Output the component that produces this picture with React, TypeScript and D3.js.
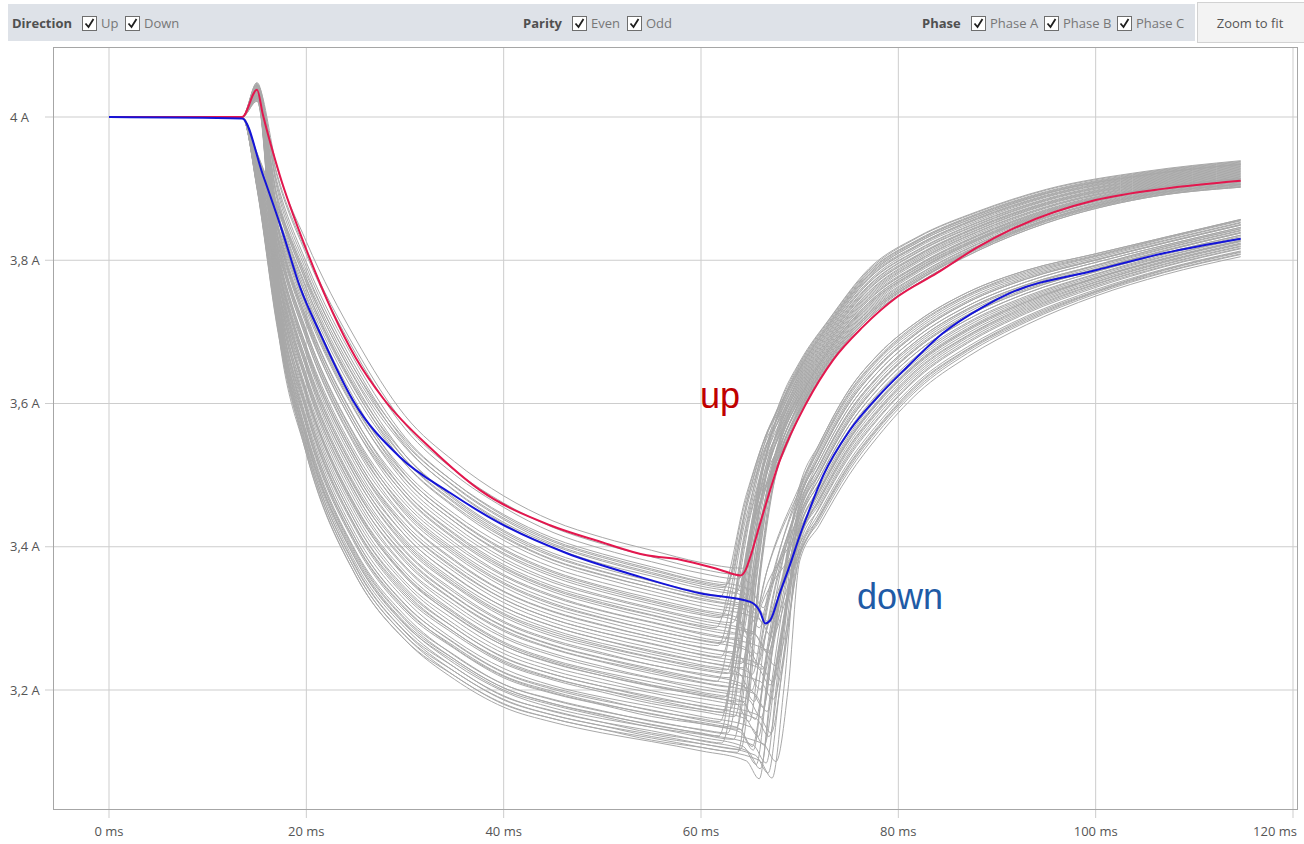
import React from 'react';
import * as d3 from 'd3';

// ---------- axis ticks ----------
const X_TICKS = [0, 20, 40, 60, 80, 100, 120];
const Y_TICKS = [3.2, 3.4, 3.6, 3.8, 4];

// ---------- highlighted traces ----------
const RED_MS = [0, 13.5, 15, 15.6, 17.3, 20, 25, 27.8, 32.8, 37.6, 44.7, 49.8, 54.5, 57.9, 61.9, 64, 64.5, 65, 66, 68, 70.7, 73.4, 76.4, 79.9, 83.9, 88, 91.3, 100, 107, 114.7];
const RED_A = [4.0, 4.0, 4.038, 4.003, 3.919, 3.815, 3.664, 3.607, 3.535, 3.479, 3.43, 3.407, 3.388, 3.382, 3.368, 3.36, 3.367, 3.386, 3.433, 3.521, 3.601, 3.661, 3.707, 3.749, 3.782, 3.818, 3.842, 3.884, 3.9, 3.911];
const BLUE_MS = [0, 13.5, 15.6, 17.6, 19.4, 21.4, 24.7, 29.5, 34.6, 39.6, 46.4, 53.1, 59.9, 65, 66, 66.5, 67, 68, 69, 70, 71, 72.4, 75.1, 77.9, 80.9, 84.5, 88.6, 91.3, 100, 107, 114.7];
const BLUE_A = [4.0, 3.998, 3.919, 3.839, 3.761, 3.698, 3.605, 3.525, 3.475, 3.433, 3.391, 3.361, 3.335, 3.323, 3.309, 3.293, 3.297, 3.336, 3.374, 3.415, 3.452, 3.5, 3.563, 3.609, 3.651, 3.698, 3.735, 3.754, 3.786, 3.81, 3.83];

// ---------- gray traces ----------
const BASE_MS = [0, 13.5];
const BASE_A = [4.0, 4.0];
const DECAY_MS = [15, 17, 20, 25, 30, 35, 40, 45, 50, 55, 60];

const UP_DECAY = [
  [4.045, 3.931, 3.826, 3.690, 3.583, 3.519, 3.471, 3.436, 3.413, 3.395, 3.378],
  [4.040, 3.919, 3.808, 3.670, 3.565, 3.501, 3.455, 3.420, 3.397, 3.379, 3.363],
  [4.035, 3.911, 3.797, 3.658, 3.553, 3.490, 3.443, 3.409, 3.387, 3.369, 3.352],
  [4.048, 3.902, 3.785, 3.645, 3.541, 3.478, 3.432, 3.399, 3.376, 3.359, 3.342],
  [4.030, 3.894, 3.774, 3.632, 3.528, 3.466, 3.421, 3.388, 3.366, 3.348, 3.332],
  [4.042, 3.886, 3.762, 3.619, 3.516, 3.455, 3.409, 3.377, 3.356, 3.338, 3.322],
  [4.038, 3.876, 3.748, 3.603, 3.501, 3.440, 3.395, 3.364, 3.343, 3.325, 3.310],
  [4.025, 3.868, 3.737, 3.590, 3.489, 3.429, 3.384, 3.353, 3.332, 3.315, 3.300],
  [4.044, 3.859, 3.725, 3.578, 3.477, 3.417, 3.372, 3.342, 3.322, 3.305, 3.290],
  [4.036, 3.851, 3.714, 3.565, 3.465, 3.406, 3.361, 3.332, 3.311, 3.295, 3.280],
  [4.030, 3.843, 3.702, 3.552, 3.452, 3.394, 3.350, 3.321, 3.301, 3.284, 3.270],
  [4.041, 3.835, 3.691, 3.539, 3.440, 3.382, 3.338, 3.310, 3.291, 3.274, 3.260],
  [4.028, 3.827, 3.679, 3.526, 3.428, 3.371, 3.327, 3.299, 3.280, 3.264, 3.250],
  [4.046, 3.818, 3.668, 3.514, 3.416, 3.359, 3.316, 3.289, 3.270, 3.253, 3.240],
  [4.033, 3.812, 3.659, 3.504, 3.407, 3.350, 3.307, 3.281, 3.262, 3.246, 3.233],
  [4.039, 3.804, 3.648, 3.491, 3.395, 3.339, 3.296, 3.270, 3.252, 3.235, 3.223],
  [4.026, 3.798, 3.639, 3.482, 3.386, 3.330, 3.288, 3.262, 3.244, 3.228, 3.215],
  [4.043, 3.790, 3.628, 3.469, 3.373, 3.319, 3.276, 3.251, 3.233, 3.217, 3.205],
  [4.031, 3.781, 3.616, 3.456, 3.361, 3.307, 3.265, 3.240, 3.223, 3.207, 3.195],
  [4.037, 3.775, 3.607, 3.446, 3.352, 3.298, 3.256, 3.232, 3.215, 3.199, 3.188],
  [4.022, 3.767, 3.596, 3.434, 3.340, 3.287, 3.245, 3.222, 3.205, 3.189, 3.178],
  [4.040, 3.761, 3.587, 3.424, 3.331, 3.278, 3.237, 3.214, 3.197, 3.181, 3.170],
  [4.029, 3.753, 3.576, 3.411, 3.319, 3.266, 3.225, 3.203, 3.187, 3.171, 3.160],
  [4.034, 3.747, 3.567, 3.402, 3.310, 3.258, 3.217, 3.195, 3.179, 3.163, 3.153],
  [4.027, 3.741, 3.559, 3.392, 3.300, 3.249, 3.208, 3.187, 3.171, 3.156, 3.145],
  [4.045, 3.734, 3.550, 3.382, 3.291, 3.240, 3.200, 3.179, 3.163, 3.148, 3.138],
  [4.024, 3.728, 3.542, 3.373, 3.282, 3.232, 3.191, 3.171, 3.155, 3.140, 3.130],
  [4.032, 3.720, 3.530, 3.360, 3.270, 3.220, 3.180, 3.160, 3.145, 3.130, 3.120],
  [4.037, 3.922, 3.812, 3.676, 3.571, 3.507, 3.461, 3.427, 3.404, 3.386, 3.369],
  [4.043, 3.907, 3.791, 3.651, 3.547, 3.484, 3.438, 3.404, 3.382, 3.364, 3.348],
  [4.029, 3.890, 3.768, 3.626, 3.522, 3.461, 3.415, 3.382, 3.361, 3.343, 3.328],
  [4.047, 3.872, 3.742, 3.597, 3.495, 3.435, 3.389, 3.358, 3.337, 3.320, 3.305],
  [4.034, 3.855, 3.719, 3.571, 3.471, 3.411, 3.367, 3.337, 3.317, 3.300, 3.285],
  [4.026, 3.839, 3.697, 3.546, 3.446, 3.388, 3.344, 3.315, 3.296, 3.279, 3.265],
  [4.041, 3.823, 3.674, 3.520, 3.422, 3.365, 3.322, 3.294, 3.275, 3.259, 3.245],
  [4.032, 3.808, 3.653, 3.498, 3.401, 3.345, 3.302, 3.275, 3.257, 3.241, 3.228],
  [4.044, 3.794, 3.633, 3.475, 3.379, 3.324, 3.282, 3.257, 3.239, 3.223, 3.210],
  [4.023, 3.779, 3.613, 3.453, 3.358, 3.304, 3.262, 3.238, 3.220, 3.205, 3.193],
  [4.039, 3.763, 3.590, 3.427, 3.334, 3.281, 3.239, 3.216, 3.200, 3.184, 3.173],
  [4.030, 3.749, 3.570, 3.405, 3.313, 3.261, 3.220, 3.198, 3.181, 3.166, 3.155],
  [4.036, 3.736, 3.553, 3.386, 3.294, 3.243, 3.203, 3.181, 3.166, 3.151, 3.140],
  [4.028, 3.724, 3.536, 3.366, 3.276, 3.226, 3.186, 3.165, 3.150, 3.135, 3.125],
];
// [t, A] pairs around the knee of each "up" trace
const UP_KNEE = [
  [64.2, 3.370, 65.9, 3.452, 67.0, 3.497],
  [63.8, 3.355, 65.7, 3.450, 67.0, 3.502],
  [62.5, 3.347, 65.0, 3.474, 66.6, 3.543],
  [63.5, 3.335, 65.5, 3.449, 66.9, 3.511],
  [61.8, 3.328, 64.6, 3.473, 66.5, 3.552],
  [64.5, 3.313, 66.1, 3.429, 67.1, 3.492],
  [62.8, 3.304, 65.1, 3.448, 66.7, 3.526],
  [63.2, 3.294, 65.4, 3.438, 66.8, 3.517],
  [61.5, 3.287, 64.4, 3.457, 66.4, 3.550],
  [64.0, 3.272, 65.8, 3.416, 67.0, 3.494],
  [62.2, 3.266, 64.8, 3.435, 66.6, 3.528],
  [63.6, 3.253, 65.6, 3.415, 66.9, 3.503],
  [62.0, 3.246, 64.7, 3.434, 66.5, 3.536],
  [64.3, 3.231, 66.0, 3.400, 67.1, 3.492],
  [62.6, 3.228, 65.0, 3.416, 66.7, 3.518],
  [63.0, 3.217, 65.3, 3.406, 66.8, 3.509],
  [61.6, 3.212, 64.5, 3.426, 66.4, 3.543],
  [63.9, 3.197, 65.7, 3.392, 67.0, 3.498],
  [62.4, 3.190, 64.9, 3.406, 66.6, 3.524],
  [64.6, 3.179, 66.1, 3.370, 67.2, 3.474],
  [62.9, 3.172, 65.2, 3.389, 66.7, 3.508],
  [63.4, 3.163, 65.5, 3.378, 66.9, 3.495],
  [61.9, 3.156, 64.6, 3.394, 66.5, 3.524],
  [64.1, 3.145, 65.9, 3.360, 67.0, 3.477],
  [62.7, 3.140, 65.1, 3.379, 66.7, 3.510],
  [63.3, 3.131, 65.4, 3.361, 66.8, 3.486],
  [62.1, 3.126, 64.8, 3.383, 66.5, 3.524],
  [63.7, 3.113, 65.6, 3.350, 66.9, 3.479],
  [63.9, 3.361, 65.7, 3.450, 67.0, 3.498],
  [62.3, 3.343, 64.9, 3.476, 66.6, 3.549],
  [64.4, 3.319, 66.0, 3.435, 67.1, 3.498],
  [62.0, 3.301, 64.7, 3.464, 66.5, 3.553],
  [63.4, 3.278, 65.5, 3.432, 66.9, 3.516],
  [61.7, 3.262, 64.5, 3.437, 66.4, 3.532],
  [64.1, 3.237, 65.9, 3.404, 67.0, 3.495],
  [62.7, 3.223, 65.1, 3.414, 66.7, 3.519],
  [63.1, 3.204, 65.3, 3.401, 66.8, 3.509],
  [64.4, 3.184, 66.0, 3.369, 67.1, 3.470],
  [62.2, 3.169, 64.8, 3.402, 66.6, 3.529],
  [63.6, 3.148, 65.6, 3.367, 66.9, 3.486],
  [61.8, 3.136, 64.6, 3.392, 66.5, 3.532],
  [64.0, 3.117, 65.8, 3.343, 67.0, 3.466],
];
const UP_RISE_MS = [68, 70, 73, 77, 82, 88, 95, 105, 114.7];
const UP_RISE = [
  [3.520, 3.584, 3.655, 3.719, 3.768, 3.813, 3.852, 3.887, 3.902],
  [3.528, 3.592, 3.662, 3.726, 3.775, 3.819, 3.857, 3.891, 3.906],
  [3.578, 3.636, 3.700, 3.768, 3.814, 3.852, 3.885, 3.913, 3.928],
  [3.542, 3.604, 3.672, 3.738, 3.786, 3.828, 3.865, 3.897, 3.912],
  [3.592, 3.648, 3.710, 3.779, 3.825, 3.861, 3.893, 3.919, 3.934],
  [3.524, 3.588, 3.659, 3.723, 3.772, 3.816, 3.855, 3.889, 3.904],
  [3.565, 3.624, 3.689, 3.756, 3.804, 3.843, 3.878, 3.907, 3.922],
  [3.556, 3.616, 3.683, 3.749, 3.797, 3.837, 3.873, 3.903, 3.918],
  [3.596, 3.652, 3.713, 3.783, 3.828, 3.864, 3.895, 3.921, 3.936],
  [3.533, 3.596, 3.666, 3.730, 3.779, 3.822, 3.860, 3.893, 3.908],
  [3.574, 3.632, 3.696, 3.764, 3.811, 3.849, 3.883, 3.911, 3.926],
  [3.547, 3.608, 3.676, 3.741, 3.790, 3.831, 3.868, 3.899, 3.914],
  [3.587, 3.644, 3.706, 3.775, 3.821, 3.858, 3.890, 3.917, 3.932],
  [3.538, 3.600, 3.669, 3.734, 3.783, 3.825, 3.863, 3.895, 3.910],
  [3.569, 3.628, 3.693, 3.760, 3.807, 3.846, 3.880, 3.909, 3.924],
  [3.560, 3.620, 3.686, 3.753, 3.800, 3.840, 3.875, 3.905, 3.920],
  [3.601, 3.656, 3.717, 3.786, 3.832, 3.867, 3.898, 3.923, 3.938],
  [3.551, 3.612, 3.679, 3.745, 3.793, 3.834, 3.870, 3.901, 3.916],
  [3.583, 3.640, 3.703, 3.771, 3.818, 3.855, 3.888, 3.915, 3.930],
  [3.526, 3.590, 3.660, 3.724, 3.773, 3.817, 3.856, 3.890, 3.905],
  [3.567, 3.626, 3.691, 3.759, 3.806, 3.845, 3.879, 3.908, 3.923],
  [3.553, 3.614, 3.681, 3.747, 3.794, 3.835, 3.871, 3.902, 3.917],
  [3.589, 3.646, 3.708, 3.777, 3.822, 3.859, 3.891, 3.918, 3.933],
  [3.535, 3.598, 3.667, 3.732, 3.780, 3.823, 3.861, 3.894, 3.909],
  [3.575, 3.634, 3.698, 3.765, 3.812, 3.850, 3.884, 3.912, 3.927],
  [3.549, 3.610, 3.678, 3.744, 3.792, 3.833, 3.869, 3.900, 3.915],
  [3.594, 3.650, 3.712, 3.781, 3.827, 3.863, 3.894, 3.920, 3.935],
  [3.544, 3.606, 3.674, 3.739, 3.787, 3.829, 3.866, 3.898, 3.913],
  [3.522, 3.586, 3.657, 3.721, 3.771, 3.815, 3.854, 3.888, 3.903],
  [3.585, 3.642, 3.705, 3.774, 3.820, 3.857, 3.889, 3.916, 3.931],
  [3.530, 3.594, 3.664, 3.728, 3.777, 3.820, 3.859, 3.892, 3.907],
  [3.598, 3.654, 3.715, 3.784, 3.829, 3.865, 3.896, 3.922, 3.937],
  [3.558, 3.618, 3.685, 3.751, 3.799, 3.839, 3.874, 3.904, 3.919],
  [3.580, 3.638, 3.701, 3.769, 3.815, 3.853, 3.886, 3.914, 3.929],
  [3.540, 3.602, 3.671, 3.736, 3.785, 3.827, 3.864, 3.896, 3.911],
  [3.571, 3.630, 3.694, 3.762, 3.808, 3.847, 3.881, 3.910, 3.925],
  [3.563, 3.622, 3.688, 3.755, 3.802, 3.842, 3.877, 3.906, 3.921],
  [3.520, 3.584, 3.655, 3.719, 3.768, 3.813, 3.852, 3.887, 3.902],
  [3.592, 3.648, 3.710, 3.779, 3.825, 3.861, 3.893, 3.919, 3.934],
  [3.546, 3.607, 3.675, 3.741, 3.789, 3.830, 3.867, 3.899, 3.914],
  [3.602, 3.658, 3.718, 3.788, 3.833, 3.868, 3.899, 3.924, 3.939],
  [3.528, 3.591, 3.662, 3.726, 3.775, 3.818, 3.857, 3.891, 3.906],
];

const DOWN_DECAY = [
  [3.950, 3.880, 3.780, 3.645, 3.550, 3.490, 3.445, 3.412, 3.390, 3.372, 3.355],
  [3.948, 3.873, 3.770, 3.634, 3.539, 3.479, 3.434, 3.402, 3.380, 3.362, 3.345],
  [3.946, 3.866, 3.760, 3.622, 3.528, 3.468, 3.423, 3.391, 3.370, 3.352, 3.336],
  [3.944, 3.860, 3.750, 3.611, 3.516, 3.457, 3.413, 3.381, 3.360, 3.343, 3.326],
  [3.942, 3.853, 3.740, 3.599, 3.505, 3.446, 3.402, 3.371, 3.350, 3.333, 3.317],
  [3.940, 3.846, 3.730, 3.588, 3.494, 3.435, 3.391, 3.361, 3.340, 3.323, 3.307],
  [3.938, 3.839, 3.720, 3.577, 3.483, 3.424, 3.380, 3.350, 3.330, 3.313, 3.297],
  [3.936, 3.832, 3.710, 3.565, 3.472, 3.413, 3.370, 3.340, 3.320, 3.304, 3.288],
  [3.934, 3.826, 3.700, 3.554, 3.460, 3.402, 3.359, 3.330, 3.310, 3.294, 3.278],
  [3.932, 3.819, 3.690, 3.542, 3.449, 3.391, 3.348, 3.319, 3.300, 3.284, 3.269],
  [3.930, 3.812, 3.680, 3.531, 3.438, 3.380, 3.337, 3.309, 3.290, 3.274, 3.259],
  [3.928, 3.805, 3.670, 3.520, 3.427, 3.369, 3.327, 3.299, 3.280, 3.265, 3.249],
  [3.926, 3.798, 3.660, 3.508, 3.416, 3.358, 3.316, 3.289, 3.270, 3.255, 3.240],
  [3.924, 3.792, 3.650, 3.497, 3.404, 3.347, 3.305, 3.278, 3.260, 3.245, 3.230],
  [3.922, 3.785, 3.640, 3.485, 3.393, 3.336, 3.294, 3.268, 3.250, 3.235, 3.221],
  [3.920, 3.778, 3.630, 3.474, 3.382, 3.325, 3.284, 3.258, 3.240, 3.226, 3.211],
  [3.918, 3.771, 3.620, 3.463, 3.371, 3.314, 3.273, 3.248, 3.230, 3.216, 3.201],
  [3.916, 3.764, 3.610, 3.451, 3.360, 3.303, 3.262, 3.237, 3.220, 3.206, 3.192],
  [3.914, 3.758, 3.600, 3.440, 3.348, 3.292, 3.251, 3.227, 3.210, 3.196, 3.182],
  [3.912, 3.751, 3.590, 3.428, 3.337, 3.281, 3.241, 3.217, 3.200, 3.187, 3.173],
  [3.910, 3.744, 3.580, 3.417, 3.326, 3.270, 3.230, 3.206, 3.190, 3.177, 3.163],
  [3.908, 3.737, 3.570, 3.406, 3.315, 3.259, 3.219, 3.196, 3.180, 3.167, 3.153],
  [3.906, 3.730, 3.560, 3.394, 3.304, 3.248, 3.208, 3.186, 3.170, 3.157, 3.144],
  [3.904, 3.724, 3.550, 3.383, 3.292, 3.237, 3.198, 3.175, 3.160, 3.148, 3.134],
  [3.902, 3.717, 3.540, 3.371, 3.281, 3.226, 3.187, 3.165, 3.150, 3.138, 3.125],
  [3.900, 3.710, 3.530, 3.360, 3.270, 3.215, 3.176, 3.155, 3.140, 3.128, 3.115],
  [3.949, 3.877, 3.775, 3.639, 3.544, 3.485, 3.440, 3.407, 3.385, 3.367, 3.350],
  [3.945, 3.863, 3.755, 3.617, 3.522, 3.463, 3.418, 3.386, 3.365, 3.348, 3.331],
  [3.941, 3.849, 3.735, 3.594, 3.500, 3.441, 3.397, 3.366, 3.345, 3.328, 3.312],
  [3.937, 3.836, 3.715, 3.571, 3.477, 3.419, 3.375, 3.345, 3.325, 3.309, 3.293],
  [3.933, 3.822, 3.695, 3.548, 3.455, 3.397, 3.354, 3.325, 3.305, 3.289, 3.273],
  [3.929, 3.809, 3.675, 3.525, 3.432, 3.375, 3.332, 3.304, 3.285, 3.270, 3.254],
  [3.925, 3.795, 3.655, 3.503, 3.410, 3.353, 3.311, 3.284, 3.265, 3.250, 3.235],
  [3.921, 3.781, 3.635, 3.480, 3.388, 3.331, 3.289, 3.263, 3.245, 3.230, 3.216],
  [3.917, 3.768, 3.615, 3.457, 3.365, 3.309, 3.267, 3.242, 3.225, 3.211, 3.197],
  [3.913, 3.754, 3.595, 3.434, 3.343, 3.287, 3.246, 3.222, 3.205, 3.191, 3.177],
  [3.909, 3.741, 3.575, 3.411, 3.320, 3.265, 3.224, 3.201, 3.185, 3.172, 3.158],
  [3.905, 3.727, 3.555, 3.389, 3.298, 3.243, 3.203, 3.181, 3.165, 3.152, 3.139],
  [3.903, 3.720, 3.545, 3.377, 3.287, 3.232, 3.192, 3.170, 3.155, 3.143, 3.129],
  [3.901, 3.713, 3.535, 3.366, 3.276, 3.220, 3.181, 3.160, 3.145, 3.133, 3.120],
];
// [t, A] pairs: knee, dip minimum, first point of the rise
const DOWN_KNEE = [
  [65.0, 3.340, 66.3, 3.315, 67.5, 3.365],
  [64.2, 3.332, 65.5, 3.307, 66.7, 3.367],
  [65.6, 3.319, 66.9, 3.294, 68.1, 3.338],
  [64.6, 3.312, 65.9, 3.287, 67.1, 3.343],
  [65.9, 3.299, 67.2, 3.274, 68.4, 3.317],
  [63.8, 3.296, 65.1, 3.271, 66.3, 3.346],
  [65.3, 3.281, 66.6, 3.256, 67.8, 3.317],
  [64.4, 3.275, 65.7, 3.250, 66.9, 3.325],
  [66.2, 3.259, 67.5, 3.234, 68.7, 3.287],
  [64.9, 3.254, 66.2, 3.229, 67.4, 3.303],
  [63.9, 3.247, 65.2, 3.222, 66.4, 3.310],
  [65.7, 3.232, 67.0, 3.207, 68.2, 3.277],
  [64.7, 3.226, 66.0, 3.201, 67.2, 3.289],
  [66.0, 3.212, 67.3, 3.187, 68.5, 3.258],
  [64.1, 3.209, 65.4, 3.184, 66.6, 3.283],
  [65.4, 3.195, 66.7, 3.170, 67.9, 3.259],
  [64.8, 3.187, 66.1, 3.162, 67.3, 3.258],
  [63.6, 3.181, 64.9, 3.156, 66.1, 3.270],
  [65.8, 3.165, 67.1, 3.140, 68.3, 3.232],
  [64.5, 3.160, 65.8, 3.135, 67.0, 3.248],
  [65.1, 3.148, 66.4, 3.123, 67.6, 3.225],
  [64.0, 3.141, 65.3, 3.116, 66.5, 3.240],
  [66.3, 3.125, 67.6, 3.100, 68.8, 3.198],
  [64.3, 3.121, 65.6, 3.096, 66.8, 3.219],
  [65.5, 3.109, 66.8, 3.084, 68.0, 3.204],
  [64.6, 3.101, 65.9, 3.076, 67.1, 3.204],
  [64.3, 3.337, 65.6, 3.312, 66.8, 3.351],
  [65.2, 3.315, 66.5, 3.290, 67.7, 3.352],
  [63.7, 3.301, 65.0, 3.276, 66.2, 3.321],
  [65.5, 3.277, 66.8, 3.252, 68.0, 3.331],
  [64.4, 3.260, 65.7, 3.235, 66.9, 3.298],
  [66.0, 3.236, 67.3, 3.211, 68.5, 3.296],
  [63.8, 3.224, 65.1, 3.199, 66.3, 3.267],
  [65.0, 3.201, 66.3, 3.176, 67.5, 3.284],
  [64.2, 3.184, 65.5, 3.159, 66.7, 3.251],
  [65.6, 3.160, 66.9, 3.135, 68.1, 3.244],
  [63.9, 3.146, 65.2, 3.121, 66.4, 3.215],
  [65.3, 3.123, 66.6, 3.098, 67.8, 3.226],
  [64.7, 3.115, 66.0, 3.090, 67.2, 3.202],
  [65.9, 3.102, 67.2, 3.077, 68.4, 3.202],
];
const DOWN_RISE_MS = [70, 72, 75, 78, 82, 87, 93, 100, 107, 114.7];
const DOWN_RISE = [
  [3.457, 3.514, 3.588, 3.639, 3.689, 3.732, 3.766, 3.793, 3.819, 3.844],
  [3.479, 3.538, 3.613, 3.663, 3.710, 3.751, 3.782, 3.806, 3.830, 3.855],
  [3.419, 3.472, 3.544, 3.597, 3.652, 3.698, 3.738, 3.772, 3.799, 3.824],
  [3.446, 3.502, 3.575, 3.627, 3.678, 3.722, 3.758, 3.787, 3.813, 3.838],
  [3.397, 3.448, 3.519, 3.573, 3.631, 3.679, 3.722, 3.759, 3.788, 3.813],
  [3.485, 3.544, 3.619, 3.669, 3.715, 3.755, 3.786, 3.809, 3.832, 3.857],
  [3.430, 3.484, 3.556, 3.609, 3.662, 3.708, 3.746, 3.778, 3.805, 3.830],
  [3.463, 3.520, 3.594, 3.645, 3.694, 3.736, 3.770, 3.797, 3.821, 3.846],
  [3.386, 3.436, 3.506, 3.561, 3.620, 3.670, 3.714, 3.753, 3.783, 3.808],
  [3.441, 3.496, 3.569, 3.621, 3.673, 3.717, 3.754, 3.784, 3.810, 3.835],
  [3.474, 3.532, 3.606, 3.657, 3.704, 3.746, 3.778, 3.803, 3.827, 3.852],
  [3.408, 3.460, 3.531, 3.585, 3.641, 3.689, 3.730, 3.766, 3.794, 3.819],
  [3.452, 3.508, 3.581, 3.633, 3.683, 3.727, 3.762, 3.790, 3.816, 3.841],
  [3.391, 3.442, 3.513, 3.567, 3.626, 3.675, 3.718, 3.756, 3.786, 3.811],
  [3.468, 3.526, 3.600, 3.651, 3.699, 3.741, 3.774, 3.800, 3.824, 3.849],
  [3.424, 3.478, 3.550, 3.603, 3.657, 3.703, 3.742, 3.775, 3.802, 3.827],
  [3.435, 3.490, 3.563, 3.615, 3.668, 3.713, 3.750, 3.781, 3.808, 3.833],
  [3.481, 3.540, 3.615, 3.665, 3.712, 3.752, 3.784, 3.807, 3.831, 3.856],
  [3.402, 3.454, 3.525, 3.579, 3.636, 3.684, 3.726, 3.762, 3.791, 3.816],
  [3.457, 3.514, 3.588, 3.639, 3.689, 3.732, 3.766, 3.793, 3.819, 3.844],
  [3.413, 3.466, 3.538, 3.591, 3.647, 3.694, 3.734, 3.769, 3.797, 3.822],
  [3.470, 3.528, 3.603, 3.653, 3.701, 3.743, 3.776, 3.801, 3.825, 3.850],
  [3.380, 3.430, 3.500, 3.555, 3.615, 3.665, 3.710, 3.750, 3.780, 3.805],
  [3.448, 3.504, 3.578, 3.629, 3.680, 3.724, 3.760, 3.788, 3.814, 3.839],
  [3.426, 3.480, 3.553, 3.605, 3.659, 3.705, 3.744, 3.776, 3.803, 3.828],
  [3.441, 3.496, 3.569, 3.621, 3.673, 3.717, 3.754, 3.784, 3.810, 3.835],
  [3.424, 3.478, 3.550, 3.603, 3.657, 3.703, 3.742, 3.775, 3.802, 3.827],
  [3.468, 3.526, 3.600, 3.651, 3.699, 3.741, 3.774, 3.800, 3.824, 3.849],
  [3.404, 3.456, 3.528, 3.581, 3.638, 3.686, 3.728, 3.764, 3.792, 3.817],
  [3.477, 3.536, 3.610, 3.661, 3.707, 3.749, 3.780, 3.805, 3.828, 3.853],
  [3.415, 3.468, 3.540, 3.593, 3.649, 3.695, 3.736, 3.770, 3.798, 3.823],
  [3.455, 3.512, 3.585, 3.637, 3.686, 3.730, 3.764, 3.792, 3.817, 3.842],
  [3.393, 3.444, 3.515, 3.569, 3.628, 3.676, 3.720, 3.757, 3.787, 3.812],
  [3.485, 3.544, 3.619, 3.669, 3.715, 3.755, 3.786, 3.809, 3.832, 3.857],
  [3.422, 3.476, 3.548, 3.601, 3.655, 3.701, 3.740, 3.774, 3.801, 3.826],
  [3.446, 3.502, 3.575, 3.627, 3.678, 3.722, 3.758, 3.787, 3.813, 3.838],
  [3.389, 3.440, 3.510, 3.565, 3.623, 3.673, 3.716, 3.755, 3.784, 3.809],
  [3.463, 3.520, 3.594, 3.645, 3.694, 3.736, 3.770, 3.797, 3.821, 3.846],
  [3.411, 3.464, 3.535, 3.589, 3.644, 3.692, 3.732, 3.767, 3.795, 3.820],
  [3.433, 3.488, 3.560, 3.613, 3.665, 3.711, 3.748, 3.780, 3.806, 3.831],
];

// ---------- toolbar ----------
const DIRECTION_OPTS = ['Up', 'Down'];
const PARITY_OPTS = ['Even', 'Odd'];
const PHASE_OPTS = ['Phase A', 'Phase B', 'Phase C'];

type Pt = [number, number];

const W = 1304;
const H = 844;
const FRAME = { left: 53, top: 47, right: 1297, bottom: 809 };
const UI_FONT = "'Open Sans', 'Noto Sans', sans-serif";

function CheckGroup({ label, x0, labelW, opts, optW }: { label: string; x0: number; labelW: number; opts: string[]; optW: number[] }) {
  let cx = x0 + labelW;
  return (
    <g>
      <text x={x0} y={28} fontFamily={UI_FONT} fontSize={13} fontWeight={700} fill="#505050">{label}</text>
      {opts.map((o, i) => {
        const bx = cx;
        cx += optW[i];
        return (
          <g key={o}>
            <rect x={bx + 0.5} y={16.5} width={14} height={14} fill="#fff" stroke="#6e6e6e" />
            <path d={`M${bx + 3.5},${23.5} L${bx + 6.5},${27} L${bx + 11.5},${19}`} fill="none" stroke="#1e1e1e" strokeWidth={1.8} />
            <text x={bx + 19} y={28} fontFamily={UI_FONT} fontSize={13} fill="#777">{o}</text>
          </g>
        );
      })}
    </g>
  );
}

export default function App() {
  const x = d3.scaleLinear().domain([0, 120]).range([109, 1293]);
  const y = d3.scaleLinear().domain([3.2, 4]).range([690, 117]);
  const line = d3
    .line<Pt>()
    .x((d) => x(d[0]))
    .y((d) => y(d[1]))
    .curve(d3.curveMonotoneX);

  const base: Pt[] = BASE_MS.map((t, i) => [t, BASE_A[i]]);
  const pairs = (row: number[]): Pt[] => {
    const out: Pt[] = [];
    for (let k = 0; k < row.length; k += 2) out.push([row[k], row[k + 1]]);
    return out;
  };
  const upTraces: Pt[][] = UP_DECAY.map((dec, i) => [
    ...base,
    ...DECAY_MS.map((t, j) => [t, dec[j]] as Pt),
    ...pairs(UP_KNEE[i]),
    ...UP_RISE_MS.map((t, j) => [t, UP_RISE[i][j]] as Pt),
  ]);
  const downTraces: Pt[][] = DOWN_DECAY.map((dec, i) => [
    ...base,
    ...DECAY_MS.map((t, j) => [t, dec[j]] as Pt),
    ...pairs(DOWN_KNEE[i]),
    ...DOWN_RISE_MS.map((t, j) => [t, DOWN_RISE[i][j]] as Pt),
  ]);
  const grayTraces = [...upTraces, ...downTraces];
  const red: Pt[] = RED_MS.map((t, i) => [t, RED_A[i]]);
  const blue: Pt[] = BLUE_MS.map((t, i) => [t, BLUE_A[i]]);

  const fmtY = (v: number) => `${String(+v.toFixed(1)).replace('.', ',')} A`;
  const lastX = X_TICKS[X_TICKS.length - 1];

  return (
    <svg width={W} height={H} style={{ position: 'absolute', left: 0, top: 0, background: '#fff' }}>
      {/* toolbar */}
      <rect x={8} y={4} width={1187} height={37} fill="#dee2e8" />
      <CheckGroup label="Direction" x0={12} labelW={70} opts={DIRECTION_OPTS} optW={[43, 55]} />
      <CheckGroup label="Parity" x0={523} labelW={49} opts={PARITY_OPTS} optW={[55, 45]} />
      <CheckGroup label="Phase" x0={922} labelW={49} opts={PHASE_OPTS} optW={[73, 73, 70]} />
      <rect x={1197.5} y={2.5} width={110} height={40} fill="#f3f3f3" stroke="#d2d2d2" />
      <text x={1250} y={28} textAnchor="middle" fontFamily={UI_FONT} fontSize={13} fill="#555">Zoom to fit</text>

      <defs>
        <clipPath id="plotClip">
          <rect x={FRAME.left} y={FRAME.top} width={FRAME.right - FRAME.left} height={FRAME.bottom - FRAME.top} />
        </clipPath>
      </defs>

      {/* grid + axes */}
      {X_TICKS.map((t) => (
        <g key={`x${t}`}>
          <line x1={x(t)} x2={x(t)} y1={FRAME.top} y2={FRAME.bottom + 9} stroke="#cdcdcd" />
          <text
            x={t === lastX ? FRAME.right : x(t)}
            y={836}
            textAnchor={t === lastX ? 'end' : 'middle'}
            fontFamily={UI_FONT}
            fontSize={13}
            fill="#555"
          >{`${t} ms`}</text>
        </g>
      ))}
      {Y_TICKS.map((v) => (
        <g key={`y${v}`}>
          <line x1={FRAME.left - 8} x2={FRAME.right} y1={y(v)} y2={y(v)} stroke="#cdcdcd" />
          <text x={10} y={y(v) + 4.5} fontFamily={UI_FONT} fontSize={13} fill="#555">{fmtY(v)}</text>
        </g>
      ))}

      {/* traces */}
      <g clipPath="url(#plotClip)" fill="none">
        {grayTraces.map((tr, i) => (
          <path key={i} d={line(tr) || ''} stroke="#a8a8a8" strokeWidth={1} />
        ))}
        <path d={line(red) || ''} stroke="#e3174e" strokeWidth={2} />
        <path d={line(blue) || ''} stroke="#1414d8" strokeWidth={2} />
      </g>

      {/* frame */}
      <rect x={FRAME.left + 0.5} y={FRAME.top + 0.5} width={FRAME.right - FRAME.left} height={FRAME.bottom - FRAME.top} fill="none" stroke="#a6a6a6" />

      {/* annotations */}
      <text x={700} y={408} fontFamily="'Liberation Sans', Arial, sans-serif" fontSize={36} fill="#c00000">up</text>
      <text x={857} y={609} fontFamily="'Liberation Sans', Arial, sans-serif" fontSize={36} fill="#1f5ba6">down</text>
    </svg>
  );
}
